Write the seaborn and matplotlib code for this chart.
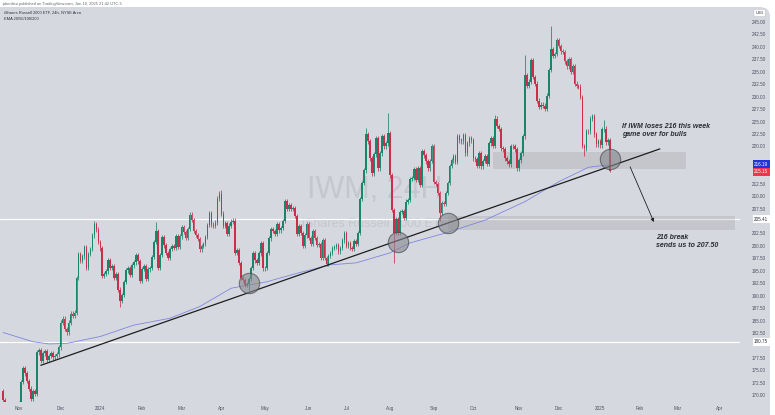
import numpy as np
import pandas as pd
import matplotlib
matplotlib.use("Agg")
import matplotlib.pyplot as plt
import matplotlib.transforms as mtrans
from matplotlib.patches import FancyBboxPatch, Rectangle
import seaborn as sns

# ---------------- data (daily closes) ----------------
first_open = 170.8
close_2023_10 = [169.0, 167.3, 168.0, 165.3, 164.2, 162.8, 164.5, 166.6]
close_2023_11 = [168.4, 172.6, 175.4, 174.4, 172.9, 171.3, 169.2, 170.8, 170.3, 178.6, 179.1,
                 176.9, 178.4, 178.9, 177.1, 177.9, 178.5, 177.6, 177.9, 178.2, 179.6]
close_2023_12 = [184.6, 185.4, 183.3, 182.6, 184.6, 186.4, 185.9, 186.6, 193.6, 198.3,
                 197.0, 197.9, 199.7, 195.6, 198.4, 199.4, 202.1, 204.4, 203.3, 200.8]
close_2024_01 = [199.5, 194.0, 194.4, 194.9, 197.1, 195.6, 195.9, 193.6, 194.4, 191.2, 188.9,
                 190.1, 192.8, 195.1, 195.6, 194.2, 196.1, 196.7, 198.2, 196.9, 192.9]
close_2024_02 = [195.4, 195.9, 193.4, 195.3, 195.6, 197.8, 200.8, 203.0, 195.6, 198.2,
                 201.7, 200.1, 198.6, 197.6, 199.4, 199.9, 199.6, 201.9, 199.8, 201.9]
close_2024_03 = [203.8, 202.8, 201.6, 203.4, 206.3, 205.2, 203.0, 202.2, 201.4, 199.3,
                 200.0, 200.4, 201.8, 204.2, 206.6, 204.3, 204.1, 204.7, 209.5, 210.5]
close_2024_04 = [206.5, 204.1, 204.6, 202.4, 204.1, 204.9, 205.1, 198.6, 199.2, 196.6, 193.6,
                 193.1, 192.2, 192.3, 193.4, 195.6, 198.6, 197.1, 196.6, 198.5, 200.6, 195.5]
close_2024_05 = [195.6, 198.6, 201.5, 203.4, 203.0, 202.4, 204.4, 203.1, 203.6, 205.0, 209.0,
                 207.4, 208.2, 207.5, 207.6, 206.0, 202.4, 204.0, 202.6, 200.0, 202.1, 204.4]
close_2024_06 = [201.6, 200.4, 202.9, 201.6, 200.2, 200.3, 197.6, 201.2, 197.6, 196.4,
                 198.0, 198.6, 199.6, 199.8, 200.2, 198.9, 199.6, 201.1, 202.6]
close_2024_07 = [200.0, 200.6, 199.6, 199.4, 200.9, 200.4, 202.6, 209.4, 212.6, 215.2, 222.4,
                 221.0, 217.6, 214.6, 218.4, 221.6, 215.6, 218.6, 222.0, 220.0, 220.6, 222.6]
close_2024_08 = [214.2, 207.2, 202.6, 205.4, 202.6, 206.8, 207.0, 205.6, 208.9, 209.2, 213.4,
                 213.6, 215.4, 213.2, 215.6, 212.2, 219.0, 218.2, 217.0, 215.6, 217.1, 220.1]
close_2024_09 = [212.9, 212.4, 210.6, 206.6, 208.6, 208.4, 210.6, 212.6, 216.1, 217.2,
                 218.1, 216.9, 222.1, 221.2, 221.0, 222.2, 218.6, 220.6, 221.6, 221.2]
close_2024_10 = [217.6, 217.4, 216.1, 218.6, 216.0, 217.1, 218.1, 216.5, 220.6, 221.6, 220.1, 225.6,
                 224.1, 223.5, 219.6, 219.4, 217.6, 217.0, 216.4, 220.1, 220.0, 219.4, 215.6]
close_2024_11 = [217.2, 218.6, 222.0, 234.4, 232.2, 233.0, 237.4, 234.0, 232.6, 229.2,
                 228.0, 228.4, 228.2, 227.6, 230.2, 235.4, 239.6, 238.2, 238.6, 241.4]
close_2024_12 = [240.2, 239.1, 239.0, 237.1, 236.1, 237.6, 235.0, 236.1, 232.6, 232.1, 232.0,
                 229.9, 220.1, 219.6, 223.1, 223.0, 225.6, 226.1, 222.4, 220.4, 221.0]
close_2025_01 = [220.2, 223.4, 223.6, 220.8, 221.2, 215.15]

special_highs = {"2023-12-27": 205.0, "2024-02-12": 204.8, "2024-04-01": 211.3,
                 "2024-07-16": 223.8, "2024-07-31": 226.8, "2024-10-16": 226.4,
                 "2024-11-06": 238.4, "2024-11-25": 244.2, "2025-01-06": 225.4}
special_lows = {"2024-01-17": 187.8, "2024-04-19": 190.9, "2024-08-05": 196.6,
                "2024-09-06": 205.0, "2024-12-19": 218.0, "2025-01-10": 214.8}

market_holidays = ["2023-11-23", "2023-12-25", "2024-01-01", "2024-01-15", "2024-02-19",
                   "2024-03-29", "2024-05-27", "2024-06-19", "2024-07-04", "2024-09-02",
                   "2024-11-28", "2024-12-25", "2025-01-01", "2025-01-09", "2025-01-20",
                   "2025-02-17", "2025-04-18"]

ema_dates = ["2023-10-20", "2023-11-10", "2023-11-22", "2023-12-06", "2024-01-02", "2024-01-26",
             "2024-02-22", "2024-03-14", "2024-04-08", "2024-05-02", "2024-05-24", "2024-06-18",
             "2024-07-09", "2024-08-01", "2024-08-15", "2024-09-11", "2024-10-09", "2024-11-06",
             "2024-12-02", "2024-12-23", "2024-12-31", "2025-01-10"]
ema_values = [182.6, 180.75, 180.3, 180.4, 181.8, 184.1, 185.45, 187.8, 191.5, 192.8, 194.6,
              196.2, 196.6, 198.6, 200.6, 202.6, 205.2, 208.9, 212.9, 215.8, 216.06, 216.19]

trend_dates = ["2023-11-16", "2025-02-18"]
trend_prices = [176.0, 219.5]
touch_dates = ["2024-04-19", "2024-08-07", "2024-09-12", "2025-01-10"]
touch_prices = [192.5, 200.8, 204.6, 217.4]
zone_dates = [("2024-10-15", "2025-03-07"), ("2024-09-12", "2025-04-11")]
zone_prices = [(215.45, 218.9), (203.2, 206.0)]
arrow_dates = ["2025-01-27", "2025-02-12"]
arrow_prices = [215.9, 204.8]
hline_prices = [205.41, 180.75]
last_price = 215.15
ema_last = 216.19
note1 = "If IWM loses 216 this week\ngame over for bulls"
note2 = "216 break\nsends us to 207.50"
price_ticks = [170.0 + 2.5 * k for k in range(31)]

# ---------------- build ----------------
sns.set_theme(style="white")
plt.rcParams["font.family"] = ["Liberation Sans", "DejaVu Sans"]

cal = pd.bdate_range("2023-10-20", "2025-04-30")
cal = cal[~cal.isin(pd.to_datetime(market_holidays))]


def ix(d):
    return int(cal.get_loc(pd.Timestamp(d)))


closes = np.array(close_2023_10 + close_2023_11 + close_2023_12 + close_2024_01 + close_2024_02 +
                  close_2024_03 + close_2024_04 + close_2024_05 + close_2024_06 + close_2024_07 +
                  close_2024_08 + close_2024_09 + close_2024_10 + close_2024_11 + close_2024_12 +
                  close_2025_01)
n = len(closes)
opens = np.r_[first_open, closes[:-1]]
wick = 0.45
highs = np.maximum(opens, closes) + wick
lows = np.minimum(opens, closes) - wick
for d, v in special_highs.items():
    highs[ix(d)] = v
for d, v in special_lows.items():
    lows[ix(d)] = v
xs = np.arange(n)
up = closes >= opens
GREEN, RED = "#17866b", "#c92f4a"
cols = np.where(up, GREEN, RED)

W, H = 775, 415
BG = "#d6d8e0"
fig = plt.figure(figsize=(W / 100, H / 100), dpi=100)
fig.patch.set_facecolor("white")
panel = FancyBboxPatch((-0.2, -0.2), (770 + 20) / 100, (408 + 20) / 100,
                       boxstyle="round,pad=0,rounding_size=0.1",
                       transform=fig.dpi_scale_trans, fc=BG, ec="none", zorder=-10)
fig.add_artist(panel)

ax = fig.add_axes([0, 13 / H, 740 / W, 394 / H])
ax.set_facecolor("none")
ax.set_zorder(2)
ax.set_xlim(-1.56, 371.4)
ax.set_ylim(168.63, 247.82)
for s in ax.spines.values():
    s.set_visible(False)

# watermark
ax.text(0.507, 0.538, "IWM, 24H", transform=ax.transAxes, ha="center", va="center",
        fontsize=22, color="#c4c7d0", zorder=0.5)
ax.text(0.507, 0.452, "iShares Russell 2000 ETF", transform=ax.transAxes, ha="center",
        va="center", fontsize=9, color="#c4c7d0", zorder=0.5)

# horizontal lines
for p in hline_prices:
    ax.axhline(p, color="white", lw=0.9, zorder=1.2)

# zones
for (d0, d1), (p0, p1) in zip(zone_dates, zone_prices):
    ax.add_patch(Rectangle((ix(d0), p0), ix(d1) - ix(d0), p1 - p0, fc="#808080",
                           alpha=0.2, ec="none", zorder=1.5))

# EMA
ema_df = pd.DataFrame({"x": [ix(d) for d in ema_dates], "ema": ema_values})
sns.lineplot(data=ema_df, x="x", y="ema", ax=ax, color="#7f86dd", lw=0.6, sort=False,
             legend=False, zorder=2)

# candles
ax.vlines(xs, lows, highs, colors=cols, lw=0.55, zorder=3)
body_lo = np.minimum(opens, closes)
body_h = np.maximum(np.abs(closes - opens), 0.15)
ax.bar(xs, body_h, bottom=body_lo, width=0.82, color=cols, linewidth=0, zorder=3.2)

# trend line
ax.plot([ix(d) for d in trend_dates], trend_prices, color="#1e1e1e", lw=0.9, zorder=4)

# touch circles
touch_df = pd.DataFrame({"x": [ix(d) for d in touch_dates], "y": touch_prices})
sns.scatterplot(data=touch_df, x="x", y="y", ax=ax, s=215, color="#86878d", alpha=0.6,
                edgecolor="#3c3d42", linewidth=0.8, zorder=5, legend=False)

# arrow
ax.annotate("", xy=(ix(arrow_dates[1]), arrow_prices[1]),
            xytext=(ix(arrow_dates[0]), arrow_prices[0]),
            arrowprops=dict(arrowstyle="-|>", color="#222222", lw=0.6, mutation_scale=5,
                            shrinkA=0, shrinkB=0), zorder=6)

# notes
ax.text(ix("2025-01-21"), 224.7, note1, fontsize=5.0, fontweight="bold", fontstyle="italic",
        color="#2a2b33", va="top", ha="left", linespacing=1.15, zorder=7)
ax.text(ix("2025-02-13"), 202.4, note2, fontsize=5.0, fontweight="bold", fontstyle="italic",
        color="#2a2b33", va="top", ha="left", linespacing=1.15, zorder=7)

# axes ticks (labels hidden behind the price tags are left out)
tag_prices = [ema_last, last_price] + hline_prices
shown_ticks = [t for t in price_ticks if min(abs(t - p) for p in tag_prices) > 1.45]
ax.set_xlabel("")
ax.set_ylabel("")
ax.yaxis.tick_right()
ax.set_yticks(shown_ticks)
ax.set_yticklabels([f"{v:.2f}" for v in shown_ticks])
ax.tick_params(axis="y", length=0, pad=8.6, labelsize=3.3, labelcolor="#4b4f5c")
month_pos, month_lab = [], []
for per, grp in pd.Series(np.arange(len(cal)), index=cal).groupby(cal.to_period("M")):
    if per < pd.Period("2023-11", "M"):
        continue
    month_pos.append(int(grp.iloc[0]))
    month_lab.append(str(per.year) if per.month == 1 else per.strftime("%b"))
ax.set_xticks(month_pos)
ax.set_xticklabels(month_lab)
ax.tick_params(axis="x", length=0, pad=3.0, labelsize=3.3, labelcolor="#4b4f5c")
ax.grid(False)

# price label boxes
bl = mtrans.blended_transform_factory(ax.transAxes, ax.transData)
xb = 1 + 14 / 740


def tag(price, txt, fc, tc, ec="none"):
    ax.text(xb, price, txt, transform=bl, ha="left", va="center", fontsize=3.3, color=tc,
            bbox=dict(boxstyle="square,pad=0.3", fc=fc, ec=ec, lw=0.3), clip_on=False,
            zorder=10)


tag(ema_last + 0.25, f"{ema_last:.2f}", "#2433d6", "white")
tag(last_price - 0.25, f"{last_price:.2f}", "#f0364f", "white")
tag(hline_prices[0], f"{hline_prices[0]:.2f}", "white", "#30323a")
tag(hline_prices[1], f"{hline_prices[1]:.2f}", "white", "#30323a")
ax.text(xb + 0.002, 1 - 5 / 394, "USD", transform=ax.transAxes, ha="left", va="center",
        fontsize=2.8, color="#30323a",
        bbox=dict(boxstyle="round,pad=0.4,rounding_size=0.3", fc="white", ec="#b8bac2", lw=0.3),
        clip_on=False, zorder=10)

# header texts
fig.text(2 / W, 1 - 3.5 / H, "jabenfico published on TradingView.com, Jan 10, 2025 21:42 UTC-5",
         fontsize=2.9, color="#666870", va="center", ha="left")
fig.text(4 / W, 1 - 12.5 / H, "iShares Russell 2000 ETF, 24h, NYSE Arca", fontsize=2.9,
         color="#30323a", va="center", ha="left")
fig.text(4 / W, 1 - 19.5 / H, "EMA 20/50/100/200", fontsize=2.9, color="#30323a",
         va="center", ha="left")

fig.savefig("out.png", dpi=100, facecolor="white")
